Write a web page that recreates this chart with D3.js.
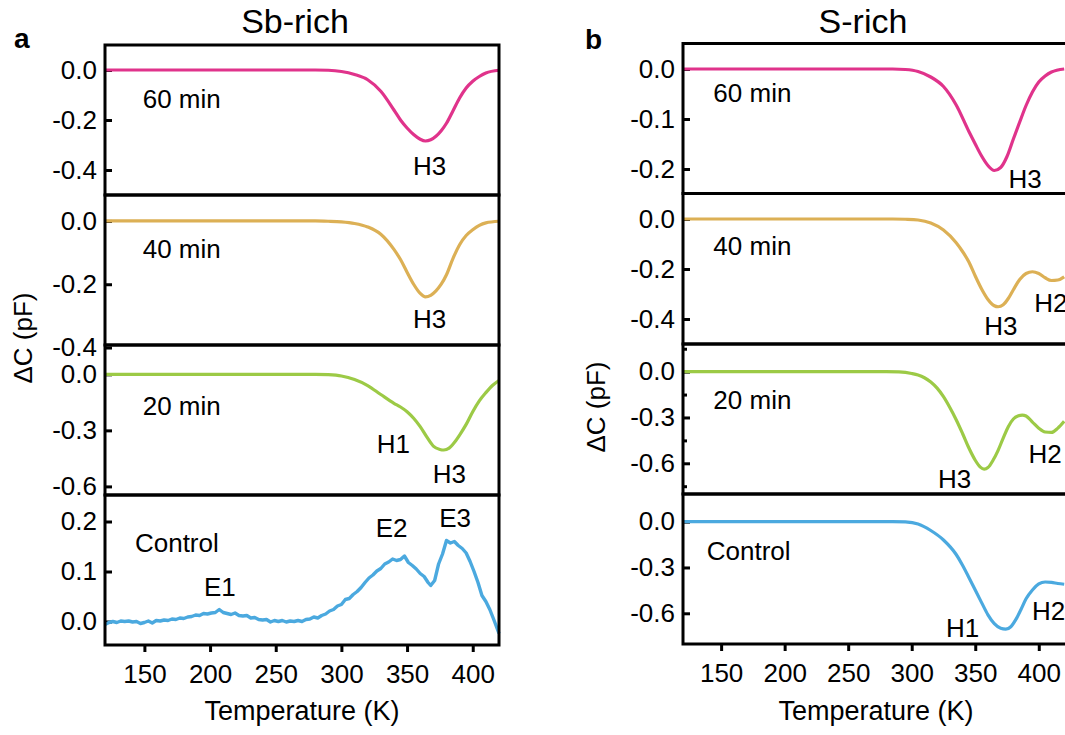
<!DOCTYPE html>
<html>
<head>
<meta charset="utf-8">
<script src="https://cdn.jsdelivr.net/npm/d3@7"></script>
<style>
  body { margin: 0; background: #fff; }
  text { font-family: "Liberation Sans", Arial, Helvetica, sans-serif; fill: #000; }
</style>
</head>
<body>
<div id="chart"></div>
<script>
// ---- data: temperature (K) and capacitance change (pF) ----

// Sb-rich
let sb60T = [120,250,280,290,300,310,320,330,340,345,350,355,360,364,368,372,376,380,385,390,395,400,405,410,420];
let sb60V = [0,0,0,-0.001,-0.006,-0.018,-0.039,-0.085,-0.16,-0.2,-0.232,-0.258,-0.277,-0.284,-0.279,-0.265,-0.243,-0.213,-0.163,-0.112,-0.072,-0.045,-0.026,-0.012,-0.001];

let sb40T = [120,250,280,290,300,310,320,330,340,345,350,355,360,364,368,372,376,380,385,390,395,400,405,410,420];
let sb40V = [0,0,0,-0.001,-0.003,-0.008,-0.019,-0.042,-0.09,-0.122,-0.162,-0.2,-0.229,-0.24,-0.235,-0.221,-0.2,-0.17,-0.118,-0.075,-0.046,-0.028,-0.014,-0.006,-0.001];

let sb20T = [120,250,280,290,300,310,320,330,340,345,350,355,360,365,370,375,378,382,386,390,395,400,405,410,415,420];
let sb20V = [0,0,0,-0.002,-0.009,-0.028,-0.06,-0.108,-0.155,-0.175,-0.2,-0.235,-0.28,-0.335,-0.384,-0.402,-0.405,-0.395,-0.365,-0.325,-0.268,-0.2,-0.142,-0.098,-0.06,-0.033];

let sbCtrlT = [120,123,126,129,132,135,138,141,144,147,150,153,156,159,162,165,168,171,174,177,180,183,186,189,192,195,198,201,204,207,210,213,216,219,222,225,228,231,234,237,240,243,246,249,252,255,258,261,264,267,270,273,276,279,282,285,288,291,294,297,300,303,306,309,312,315,318,321,324,327,330,333,336,339,342,345,348,351,354,357,360,363,366,368,371,374,377,380,383,386,389,392,395,398,401,404,407,410,413,416,418,420];
let sbCtrlV = [-0.006,-0.002,0.000,-0.002,0.001,0.000,0.001,-0.001,0.000,-0.004,-0.002,0.001,-0.003,0.002,0.001,0.003,0.002,0.005,0.004,0.007,0.006,0.009,0.010,0.013,0.012,0.016,0.015,0.017,0.018,0.024,0.018,0.016,0.014,0.017,0.012,0.011,0.012,0.007,0.008,0.004,0.003,0.004,-0.001,0.002,0.000,0.002,-0.001,0.001,0.000,0.002,0.000,0.004,0.005,0.009,0.007,0.012,0.015,0.021,0.024,0.031,0.034,0.044,0.046,0.054,0.060,0.068,0.078,0.087,0.093,0.101,0.106,0.115,0.119,0.125,0.122,0.124,0.131,0.118,0.112,0.105,0.096,0.090,0.078,0.072,0.082,0.115,0.135,0.162,0.157,0.160,0.152,0.146,0.137,0.120,0.100,0.078,0.052,0.040,0.024,0.004,-0.010,-0.024];

// S-rich
let s60T = [120,260,285,295,305,315,325,335,345,350,355,360,365,370,375,380,385,390,395,400,405,410,420];
let s60V = [0,0,0,-0.001,-0.005,-0.016,-0.035,-0.072,-0.125,-0.15,-0.174,-0.193,-0.203,-0.197,-0.175,-0.14,-0.106,-0.073,-0.046,-0.026,-0.014,-0.006,0];

let s40T = [120,260,285,295,305,315,325,335,340,345,350,355,360,365,368,372,376,380,385,390,395,400,405,410,415,420];
let s40V = [0,0,0,-0.001,-0.004,-0.016,-0.044,-0.095,-0.13,-0.172,-0.228,-0.28,-0.322,-0.347,-0.351,-0.343,-0.318,-0.283,-0.242,-0.218,-0.211,-0.218,-0.235,-0.246,-0.244,-0.231];

let s20T = [120,260,280,290,300,305,310,315,320,325,330,335,340,345,350,354,357,360,364,368,372,376,380,384,387,390,395,400,405,410,415,420];
let s20V = [0,0,0,-0.002,-0.012,-0.022,-0.04,-0.068,-0.108,-0.164,-0.235,-0.315,-0.405,-0.5,-0.58,-0.625,-0.638,-0.628,-0.58,-0.515,-0.435,-0.36,-0.31,-0.289,-0.284,-0.29,-0.33,-0.37,-0.395,-0.398,-0.37,-0.325];

let sCtrlT = [120,260,285,295,305,315,325,335,340,345,350,355,360,365,370,374,378,382,386,390,395,400,405,410,415,420];
let sCtrlV = [0,0,0,-0.002,-0.015,-0.058,-0.12,-0.215,-0.285,-0.365,-0.448,-0.53,-0.61,-0.668,-0.698,-0.704,-0.688,-0.64,-0.575,-0.505,-0.447,-0.408,-0.395,-0.398,-0.405,-0.41];

let xTicks = [150, 200, 250, 300, 350, 400];

let colors = {pink: "#e0338b", gold: "#dcb055", green: "#9cca46", blue: "#4ba9df"};

// ---- panel setup ----
let columns = [
  {
    title: "Sb-rich", letter: "a",
    left: 105, right: 499, xDomain: [120, 420],
    tops: [45, 195, 345, 495, 645],
    titleX: 295, letterX: 14, letterY: 48, ylabelX: 32, ylabelY: 338, xlabelX: 302,
    panels: [
      {t: sb60T, v: sb60V, color: colors.pink, domain: [-0.5, 0.1], ticks: [0, -0.2, -0.4],
       notes: [["60 min", 148.7, -0.153], ["H3", 354.5, -0.42]]},
      {t: sb40T, v: sb40V, color: colors.gold, domain: [-0.392, 0.082], ticks: [0, -0.2, -0.4],
       notes: [["40 min", 148.7, -0.118], ["H3", 354.5, -0.339]]},
      {t: sb20T, v: sb20V, color: colors.green, domain: [-0.646, 0.157], ticks: [0, -0.3, -0.6],
       notes: [["20 min", 148.7, -0.218], ["H1", 326.9, -0.423], ["H3", 369.5, -0.584]]},
      {t: sbCtrlT, v: sbCtrlV, color: colors.blue, domain: [-0.047, 0.253], ticks: [0, 0.1, 0.2], linear: true,
       notes: [["Control", 142.8, 0.139], ["E1", 195.4, 0.051], ["E2", 326.1, 0.17], ["E3", 374.5, 0.19]]}
    ]
  },
  {
    title: "S-rich", letter: "b",
    left: 683, right: 1068, xDomain: [120, 423],
    tops: [43.5, 193.5, 344, 494, 644],
    titleX: 863, letterX: 585, letterY: 49, ylabelX: 605, ylabelY: 407, xlabelX: 876,
    panels: [
      {t: s60T, v: s60V, color: colors.pink, domain: [-0.249, 0.051], ticks: [0, -0.1, -0.2],
       notes: [["60 min", 143.9, -0.065], ["H3", 376.1, -0.237]]},
      {t: s40T, v: s40V, color: colors.gold, domain: [-0.5, 0.102], ticks: [0, -0.2, -0.4],
       notes: [["40 min", 143.9, -0.144], ["H3", 357, -0.464], ["H2", 396.4, -0.371]]},
      {t: s20T, v: s20V, color: colors.green, domain: [-0.801, 0.181], ticks: [0, -0.3, -0.6],
       minor: [0.15, -0.15, -0.45, -0.75],
       notes: [["20 min", 143.9, -0.246], ["H3", 320.6, -0.764], ["H2", 391.9, -0.6]]},
      {t: sCtrlT, v: sCtrlV, color: colors.blue, domain: [-0.801, 0.181], ticks: [0, -0.3, -0.6],
       notes: [["Control", 138.7, -0.251], ["H1", 326.9, -0.753], ["H2", 394.6, -0.644]]}
    ]
  }
];

let svg = d3.select("#chart")
  .append("svg")
    .attr("width", 1065)
    .attr("height", 735);

let fmt = d => d.toFixed(1);

columns.forEach(function(col) {
  let x = d3.scaleLinear().domain(col.xDomain).range([col.left, col.right]);

  col.panels.forEach(function(p, i) {
    let top = col.tops[i], bottom = col.tops[i + 1];
    let y = d3.scaleLinear().domain(p.domain).range([bottom, top]);

    // y axis, ticks pointing into the plot
    svg.append("g")
      .attr("transform", "translate(" + col.left + ",0)")
      .call(d3.axisLeft(y).tickValues(p.ticks).tickFormat(fmt).tickSizeInner(-7).tickSizeOuter(0).tickPadding(8))
      .call(g => g.select(".domain").remove())
      .call(g => g.selectAll("line").attr("stroke", "#000").attr("stroke-width", 3))
      .call(g => g.selectAll("text").attr("font-size", 26).attr("fill", "#000"));

    if (p.minor) {
      svg.append("g")
        .attr("transform", "translate(" + col.left + ",0)")
        .call(d3.axisLeft(y).tickValues(p.minor).tickFormat("").tickSizeInner(-4).tickSizeOuter(0))
        .call(g => g.select(".domain").remove())
        .call(g => g.selectAll("line").attr("stroke", "#000").attr("stroke-width", 3));
    }

    let line = d3.line()
      .x((d, k) => x(p.t[k]))
      .y(d => y(d))
      .curve(p.linear ? d3.curveLinear : d3.curveMonotoneX);

    svg.append("path")
      .datum(p.v)
      .attr("fill", "none")
      .attr("stroke", p.color)
      .attr("stroke-width", p.linear ? 3.4 : 3.2)
      .attr("stroke-linejoin", "round")
      .attr("d", line);

    // labels inside the panel
    svg.selectAll(null)
      .data(p.notes)
      .enter()
      .append("text")
        .attr("x", d => x(d[1]))
        .attr("y", d => y(d[2]))
        .attr("font-size", 26)
        .text(d => d[0]);

    // panel frame
    svg.append("rect")
      .attr("x", col.left)
      .attr("y", top)
      .attr("width", col.right - col.left)
      .attr("height", bottom - top)
      .attr("fill", "none")
      .attr("stroke", "#000")
      .attr("stroke-width", 3);
  });

  // x axis under the last panel
  let base = col.tops[col.tops.length - 1];
  svg.append("g")
    .attr("transform", "translate(0," + base + ")")
    .call(d3.axisBottom(x).tickValues(xTicks).tickSizeInner(7).tickSizeOuter(0).tickPadding(13))
    .call(g => g.select(".domain").remove())
    .call(g => g.selectAll("line").attr("stroke", "#000").attr("stroke-width", 3))
    .call(g => g.selectAll("text").attr("font-size", 26).attr("fill", "#000"));

  svg.append("text")
    .attr("x", col.xlabelX)
    .attr("y", 720)
    .attr("text-anchor", "middle")
    .attr("font-size", 27)
    .text("Temperature (K)");

  svg.append("text")
    .attr("transform", "translate(" + col.ylabelX + "," + col.ylabelY + ") rotate(-90)")
    .attr("text-anchor", "middle")
    .attr("font-size", 26)
    .text("ΔC (pF)");

  svg.append("text")
    .attr("x", col.titleX)
    .attr("y", 33)
    .attr("text-anchor", "middle")
    .attr("font-size", 34)
    .text(col.title);

  svg.append("text")
    .attr("x", col.letterX)
    .attr("y", col.letterY)
    .attr("font-size", 28)
    .attr("font-weight", "bold")
    .text(col.letter);
});
</script>
</body>
</html>
